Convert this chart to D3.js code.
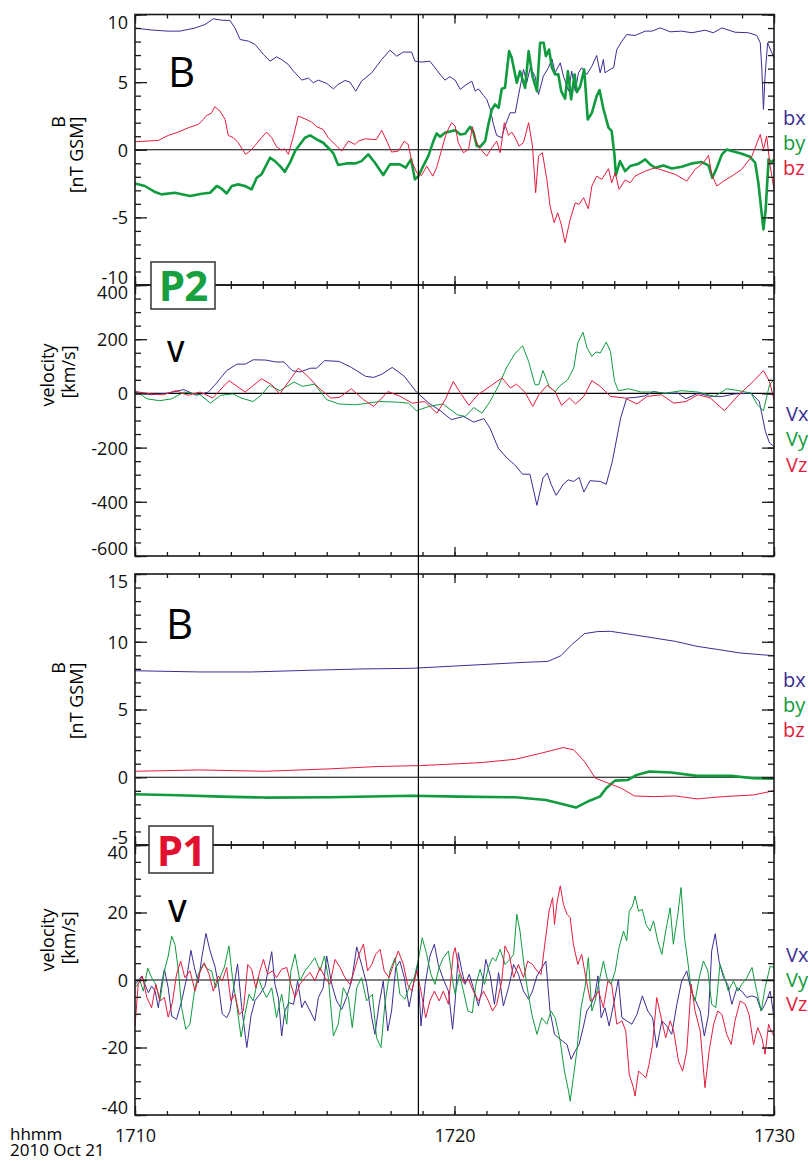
<!DOCTYPE html>
<html>
<head>
<meta charset="utf-8">
<script src="https://cdn.jsdelivr.net/npm/d3@7"></script>
<style>
  body { margin: 0; background: #fff; }
  svg text { font-family: "Open Sans", "DejaVu Sans", sans-serif; }
</style>
</head>
<body>
<div id="chart"></div>
<script>
// time axis: minutes after 17:10 UT, 2010 Oct 21
var eventTime = 8.87;
var timeTicks = [0, 10, 20];
var timeTickLabels = ["1710", "1720", "1730"];

// tick values of each panel
var p2BTicks = [-10, -5, 0, 5, 10];
var p2VTicks = [-600, -400, -200, 0, 200, 400];
var p1BTicks = [-5, 0, 5, 10, 15];
var p1VTicks = [-40, -20, 0, 20, 40];

// P2 magnetic field [nT GSM], [minute, value]
var p2Bx = [[0,9.0],[0.52,8.85],[1.04,8.77],[1.41,8.77],[1.88,9.0],[2.19,9.26],[2.45,9.68],[2.71,9.58],[2.97,9.56],[3.13,9.0],[3.29,8.15],[3.55,8.03],[3.76,7.78],[4.02,7.04],[4.23,6.55],[4.43,6.87],[4.59,6.67],[4.80,6.3],[4.96,5.81],[5.22,5.15],[5.43,5.3],[5.58,4.95],[5.74,5.15],[6.0,4.9],[6.21,4.5],[6.36,4.83],[6.57,5.12],[6.73,5.0],[6.91,4.33],[7.09,5.07],[7.41,5.69],[7.72,6.67],[7.98,7.36],[8.19,6.92],[8.40,7.22],[8.66,7.22],[8.76,6.55],[8.97,6.48],[9.23,6.55],[9.39,6.06],[9.55,5.57],[9.70,5.15],[9.86,5.4],[10.02,5.15],[10.18,4.46],[10.33,4.75],[10.54,5.07],[10.65,4.33],[10.75,4.5],[10.91,4.01],[11.01,3.72],[11.12,2.98],[11.22,1.87],[11.32,1.06],[11.48,0.89],[11.58,1.75],[11.74,2.73],[11.90,2.73],[12.0,3.97],[12.16,5.94],[12.26,4.95],[12.37,6.06],[12.52,5.44],[12.63,4.09],[12.78,5.44],[12.94,6.06],[13.05,6.72],[13.15,5.69],[13.31,6.43],[13.41,5.44],[13.57,4.33],[13.67,5.81],[13.78,4.33],[13.88,5.69],[13.98,6.06],[14.14,5.57],[14.30,6.18],[14.45,6.97],[14.56,5.69],[14.66,6.67],[14.71,5.69],[14.87,5.94],[14.98,6.06],[15.08,7.41],[15.24,8.03],[15.39,8.52],[15.65,8.45],[15.97,8.77],[16.18,8.77],[16.44,9.01],[16.75,8.72],[17.11,8.77],[17.43,8.65],[17.84,8.84],[18.10,8.65],[18.37,9.01],[18.78,8.69],[19.20,8.65],[19.46,8.45],[19.57,7.91],[19.62,5.94],[19.67,2.98],[19.72,5.44],[19.80,7.91],[19.91,7.29],[20.0,6.8]];
var p2By = [[0,-2.49],[0.31,-2.68],[0.63,-3.13],[0.83,-3.3],[1.25,-3.18],[1.72,-3.42],[2.09,-3.25],[2.35,-3.18],[2.56,-2.68],[2.71,-2.88],[2.87,-3.23],[3.03,-2.68],[3.23,-2.56],[3.44,-2.68],[3.65,-2.93],[3.81,-2.07],[3.96,-1.82],[4.12,-1.08],[4.23,-0.59],[4.38,-0.84],[4.54,-1.21],[4.69,-1.63],[4.85,-0.96],[5.01,-0.1],[5.16,0.39],[5.32,0.89],[5.48,1.06],[5.69,0.76],[5.89,0.52],[6.10,0.02],[6.21,-0.27],[6.36,-1.13],[6.62,-1.01],[6.89,-1.01],[7.09,-0.84],[7.30,-0.34],[7.51,-0.96],[7.77,-1.87],[7.98,-1.08],[8.29,-1.08],[8.47,-1.33],[8.64,-0.71],[8.76,-2.19],[8.87,-1.95],[9.02,-1.21],[9.18,-0.47],[9.34,0.64],[9.44,1.21],[9.55,0.96],[9.70,1.26],[10.02,1.45],[10.18,1.13],[10.33,1.18],[10.49,1.7],[10.59,1.31],[10.70,0.27],[10.80,0.22],[10.96,0.64],[11.06,1.87],[11.17,2.98],[11.27,3.35],[11.38,3.1],[11.48,4.51],[11.58,4.58],[11.71,7.29],[11.79,6.8],[11.95,4.95],[12.05,5.81],[12.21,4.58],[12.32,7.29],[12.44,5.44],[12.58,4.33],[12.68,7.91],[12.79,7.91],[12.86,6.92],[12.96,7.41],[13.05,6.06],[13.15,5.57],[13.25,5.57],[13.34,4.33],[13.46,3.77],[13.55,5.81],[13.65,3.72],[13.76,5.57],[13.83,4.26],[13.93,4.66],[14.06,5.94],[14.17,2.24],[14.30,2.73],[14.45,3.97],[14.54,4.41],[14.66,3.03],[14.82,1.63],[14.92,1.38],[15.01,-0.47],[15.05,-1.87],[15.18,-0.84],[15.34,-1.58],[15.50,-1.21],[15.71,-1.08],[15.81,-0.96],[15.97,-0.71],[16.12,-1.08],[16.28,-1.33],[16.54,-1.16],[16.80,-1.38],[17.11,-1.26],[17.43,-1.01],[17.74,-0.91],[17.95,-1.16],[18.07,-2.07],[18.21,-1.33],[18.37,-0.34],[18.52,0.02],[18.68,-0.1],[18.99,-0.3],[19.25,-0.52],[19.41,-0.96],[19.51,-2.44],[19.60,-4.41],[19.67,-5.89],[19.74,-4.41],[19.83,-0.71],[19.93,-0.96],[20.0,-0.71]];
var p2Bz = [[0,0.59],[0.73,0.69],[1.04,1.06],[1.36,1.31],[1.67,1.63],[1.98,1.87],[2.14,2.24],[2.24,2.54],[2.38,2.68],[2.50,3.18],[2.66,2.86],[2.82,2.24],[2.92,1.06],[3.08,0.89],[3.23,0.52],[3.46,-0.34],[3.60,-0.1],[3.76,0.32],[3.96,0.89],[4.12,1.31],[4.28,0.89],[4.43,0.22],[4.59,-0.02],[4.69,0.07],[4.80,-0.34],[4.96,1.01],[5.11,2.49],[5.32,2.29],[5.53,2.04],[5.69,1.7],[5.89,1.5],[6.05,0.89],[6.26,0.39],[6.47,-0.1],[6.68,0.64],[6.89,0.39],[6.99,0.64],[7.20,0.81],[7.41,0.76],[7.56,0.76],[7.72,1.45],[7.88,0.64],[8.03,-0.17],[8.24,-0.1],[8.43,0.64],[8.55,0.39],[8.66,-0.84],[8.82,-1.7],[8.97,-1.9],[9.13,-1.21],[9.32,-1.95],[9.44,-1.33],[9.60,0.02],[9.75,1.26],[9.91,2.0],[10.02,1.75],[10.12,0.52],[10.28,-0.22],[10.44,0.02],[10.56,1.7],[10.67,0.64],[10.80,0.07],[11.01,-0.47],[11.17,0.15],[11.32,0.64],[11.43,-0.22],[11.56,2.0],[11.69,1.06],[11.79,1.31],[11.90,0.89],[12.02,0.27],[12.16,0.52],[12.32,2.0],[12.44,0.27],[12.54,-3.18],[12.63,-0.47],[12.75,-0.22],[12.89,-2.19],[12.99,-4.16],[13.12,-5.39],[13.23,-4.66],[13.34,-5.52],[13.46,-6.87],[13.62,-5.15],[13.78,-3.92],[13.90,-4.04],[14.04,-3.55],[14.19,-4.36],[14.30,-2.68],[14.45,-1.95],[14.61,-2.19],[14.82,-1.4],[14.92,-2.44],[15.03,-1.7],[15.15,-2.93],[15.34,-2.24],[15.50,-2.44],[15.65,-1.95],[15.97,-1.58],[16.28,-1.33],[16.59,-1.58],[16.91,-1.82],[17.27,-2.32],[17.53,-1.45],[17.79,-0.96],[17.95,-0.42],[18.05,-1.82],[18.21,-2.68],[18.42,-2.32],[18.68,-1.95],[18.99,-1.45],[19.31,-0.47],[19.57,1.13],[19.67,0.02],[19.77,1.01],[19.88,-1.21],[20.0,-2.93]];

// P2 velocity [km/s]
var p2Vx = [[0,4],[0.51,-5],[1.02,1],[1.53,14],[1.92,-7],[2.30,5],[2.55,38],[2.87,84],[3.19,108],[3.45,108],[3.70,124],[4.09,123],[4.41,116],[4.66,116],[4.92,84],[5.17,79],[5.49,93],[5.68,93],[5.94,121],[6.39,118],[6.77,96],[7.22,63],[7.47,59],[7.73,71],[8.05,96],[8.43,63],[8.81,5],[9.20,-36],[9.58,-66],[9.90,-97],[10.28,-85],[10.60,-106],[10.92,-93],[11.11,-128],[11.37,-202],[11.62,-236],[11.88,-263],[12.13,-298],[12.36,-298],[12.58,-413],[12.77,-312],[12.90,-294],[13.03,-337],[13.18,-376],[13.41,-335],[13.56,-319],[13.73,-325],[13.90,-310],[14.05,-364],[14.24,-322],[14.56,-325],[14.75,-335],[14.94,-251],[15.20,-91],[15.39,-17],[15.65,-15],[15.96,-9],[16.22,7],[16.60,0],[16.99,1],[17.24,-20],[17.62,1],[18.01,-11],[18.39,-11],[18.77,-2],[19.28,1],[19.54,-30],[19.73,-140],[19.86,-183],[20.0,-196]];
var p2Vy = [[0,10],[0.38,-20],[0.77,-27],[1.15,-20],[1.53,5],[2.04,-5],[2.36,-36],[2.68,-7],[3.07,-2],[3.32,-17],[3.70,-30],[3.96,-5],[4.21,30],[4.53,10],[4.98,42],[5.24,26],[5.62,34],[6.00,-23],[6.39,-39],[6.90,-42],[7.28,-36],[7.66,-30],[8.17,-32],[8.56,-36],[8.81,-64],[9.20,-48],[9.64,-39],[10.09,-79],[10.34,-85],[10.60,-52],[10.86,-73],[11.11,-30],[11.37,26],[11.62,93],[11.88,145],[12.13,176],[12.32,118],[12.52,32],[12.64,32],[12.77,84],[12.96,26],[13.15,5],[13.28,26],[13.54,50],[13.73,93],[13.86,186],[14.02,226],[14.15,167],[14.30,137],[14.43,153],[14.56,149],[14.75,189],[14.88,155],[15.01,44],[15.13,10],[15.45,17],[15.84,5],[16.22,5],[16.60,1],[17.11,10],[17.62,5],[18.14,-11],[18.52,17],[18.90,10],[19.28,1],[19.48,-42],[19.67,-64],[19.86,32],[20.0,50]];
var p2Vz = [[0,7],[0.51,-2],[0.89,-5],[1.28,10],[1.66,-7],[2.04,5],[2.43,-17],[2.94,47],[3.45,5],[3.96,54],[4.28,32],[4.53,-2],[4.85,50],[5.11,93],[5.36,69],[5.75,20],[6.13,-17],[6.39,-15],[6.77,17],[7.15,-23],[7.47,-48],[7.92,7],[8.30,-11],[8.68,-36],[9.07,-30],[9.45,-73],[9.71,-23],[9.96,44],[10.22,-5],[10.45,-44],[10.73,-5],[11.11,26],[11.49,57],[11.75,20],[11.94,34],[12.20,5],[12.45,-48],[12.64,-5],[12.90,30],[13.15,7],[13.35,-44],[13.60,-17],[13.79,-39],[14.05,-11],[14.30,47],[14.56,26],[14.88,-11],[15.33,-17],[15.71,-39],[16.03,-11],[16.48,-5],[16.86,-36],[17.24,-30],[17.62,-5],[18.01,-17],[18.45,-64],[18.90,-5],[19.35,44],[19.67,84],[19.86,44],[20.0,-23]];

// P1 magnetic field [nT GSM]
var p1Bx = [[0,7.86],[2.03,7.77],[3.65,7.77],[5.41,7.89],[7.04,7.99],[8.66,8.04],[9.47,8.14],[10.83,8.31],[12.18,8.48],[12.92,8.55],[13.33,8.97],[13.67,9.79],[14.07,10.6],[14.48,10.75],[14.88,10.77],[15.56,10.53],[16.24,10.28],[16.91,10.03],[17.59,9.66],[18.27,9.42],[18.94,9.17],[20.0,8.97]];
var p1By = [[0,-1.26],[1.35,-1.33],[2.71,-1.43],[4.06,-1.5],[6.09,-1.48],[8.66,-1.36],[10.15,-1.43],[11.91,-1.48],[12.86,-1.68],[13.40,-2.0],[13.80,-2.24],[14.21,-1.75],[14.55,-1.43],[14.75,-0.81],[15.02,-0.25],[15.43,-0.2],[15.70,0.17],[16.10,0.42],[16.78,0.35],[17.59,0.1],[18.67,0.1],[19.35,-0.07],[20.0,-0.1]];
var p1Bz = [[0,0.44],[2.03,0.54],[4.06,0.44],[6.09,0.62],[7.58,0.79],[8.93,0.86],[10.83,1.08],[11.91,1.33],[12.72,1.78],[13.40,2.19],[13.73,2.02],[14.07,1.16],[14.41,-0.07],[14.82,-0.44],[15.22,-0.81],[15.63,-1.38],[16.24,-1.43],[16.91,-1.38],[17.59,-1.6],[18.40,-1.43],[19.35,-1.31],[20.0,-0.99]];

// P1 velocity [km/s]
var p1Vx = [[0,-1.3],[0.10,-0.3],[0.21,1.2],[0.31,-1.3],[0.42,-3.8],[0.52,-1.8],[0.63,-3.3],[0.73,-8.2],[0.83,-1.3],[0.92,3.2],[1.04,-2.3],[1.15,-10.7],[1.30,-11.7],[1.46,-6.2],[1.62,0.7],[1.75,8.8],[1.86,3.7],[1.98,-0.8],[2.09,6.6],[2.22,13.8],[2.35,8.6],[2.50,4.1],[2.61,-1.3],[2.73,-10.0],[2.87,-11.2],[2.97,-9.2],[3.08,-2.8],[3.21,4.8],[3.34,-8.2],[3.50,-20.0],[3.63,-10.7],[3.76,-6.0],[3.91,-4.2],[4.07,-1.8],[4.28,8.4],[4.38,-1.3],[4.49,-5.4],[4.59,-16.6],[4.69,-9.2],[4.82,-6.7],[4.96,-7.2],[5.09,-0.3],[5.22,-8.2],[5.32,-6.2],[5.48,-9.2],[5.63,-12.1],[5.74,-5.2],[5.89,-2.3],[6.00,7.1],[6.16,-1.3],[6.31,-6.2],[6.47,-8.7],[6.62,-5.2],[6.78,-0.3],[6.94,9.8],[7.09,4.6],[7.25,-1.1],[7.41,-11.2],[7.51,-16.1],[7.64,-7.2],[7.77,-0.3],[7.91,-15.1],[8.03,-9.2],[8.16,3.7],[8.29,5.6],[8.43,0.7],[8.58,-8.0],[8.71,-1.3],[8.85,4.6],[8.95,-13.6],[9.08,-1.3],[9.23,7.1],[9.37,10.6],[9.49,4.6],[9.65,0.2],[9.81,-3.3],[9.94,-14.6],[10.02,-6.2],[10.12,8.1],[10.23,2.7],[10.33,-1.3],[10.46,1.7],[10.59,-2.3],[10.75,-7.7],[10.85,-3.3],[10.98,6.1],[11.12,1.2],[11.25,-7.2],[11.38,2.2],[11.53,-7.7],[11.69,-2.3],[11.85,4.6],[12.00,1.7],[12.16,-3.3],[12.32,-5.7],[12.44,-3.3],[12.58,1.2],[12.71,3.2],[12.86,5.6],[12.99,-9.2],[13.13,-16.1],[13.25,-17.1],[13.38,-18.1],[13.52,-19.1],[13.65,-23.5],[13.78,-21.0],[13.90,-19.1],[14.04,-13.6],[14.14,-9.2],[14.28,-7.2],[14.40,-4.2],[14.49,1.2],[14.59,-11.2],[14.71,-8.2],[14.84,-13.6],[14.98,-7.2],[15.13,0.2],[15.24,-11.2],[15.39,-12.1],[15.55,-13.1],[15.71,-10.2],[15.88,-4.7],[16.05,-9.2],[16.20,-11.2],[16.33,-20.0],[16.49,-12.1],[16.64,-13.6],[16.80,-16.1],[16.96,-7.2],[17.11,-0.3],[17.27,2.7],[17.41,-3.3],[17.55,-6.2],[17.69,-9.2],[17.82,-16.6],[17.95,-10.2],[18.05,8.6],[18.16,13.7],[18.28,5.6],[18.42,0.7],[18.55,-1.3],[18.68,-7.2],[18.84,-2.3],[18.99,-3.3],[19.15,-5.2],[19.31,-4.7],[19.46,-5.2],[19.60,-9.2],[19.72,-7.2],[19.88,-3.3],[20.0,-11.2]];
var p1Vy = [[0,-2.3],[0.16,-0.3],[0.26,-3.3],[0.40,3.5],[0.52,0.7],[0.65,-1.3],[0.78,-6.2],[0.92,2.7],[1.04,7.1],[1.15,13.0],[1.25,10.6],[1.36,2.7],[1.46,-8.2],[1.59,-14.6],[1.72,-13.1],[1.86,-3.3],[1.98,1.7],[2.14,4.8],[2.27,3.2],[2.40,2.7],[2.52,-2.3],[2.66,0.7],[2.80,3.9],[2.94,10.1],[3.05,0.7],[3.18,-7.2],[3.32,-16.9],[3.44,-10.2],[3.57,-4.2],[3.70,-6.2],[3.86,0.7],[3.99,-2.8],[4.12,-5.2],[4.28,-2.3],[4.43,-11.2],[4.59,-4.2],[4.75,-13.1],[4.88,2.7],[5.01,7.6],[5.16,-0.3],[5.32,2.7],[5.48,4.6],[5.63,6.6],[5.79,2.7],[5.93,7.1],[6.05,0.7],[6.21,-16.6],[6.36,-13.1],[6.52,-2.3],[6.68,-5.2],[6.80,-14.1],[6.94,-2.3],[7.09,0.7],[7.25,-6.2],[7.43,-4.2],[7.56,-17.1],[7.70,-20.0],[7.82,-7.2],[7.98,2.7],[8.14,6.6],[8.29,-4.2],[8.45,-5.7],[8.61,-1.3],[8.74,0.7],[8.87,6.1],[8.99,12.5],[9.13,7.6],[9.26,1.7],[9.39,-1.3],[9.52,3.7],[9.65,6.6],[9.81,8.6],[9.96,-1.3],[10.02,-4.2],[10.15,1.7],[10.28,-3.3],[10.42,-9.2],[10.56,-9.7],[10.67,-1.3],[10.80,3.2],[10.94,-1.3],[11.06,3.7],[11.19,6.6],[11.29,5.6],[11.43,9.1],[11.58,4.6],[11.74,6.1],[11.85,7.6],[11.95,19.5],[12.05,14.5],[12.16,5.6],[12.26,-1.3],[12.42,-10.2],[12.58,-16.1],[12.73,-11.2],[12.89,-13.1],[13.02,-9.2],[13.15,-11.2],[13.31,-18.1],[13.44,-27.0],[13.57,-32.9],[13.62,-35.9],[13.72,-28.9],[13.83,-21.0],[13.96,-8.2],[14.09,-1.8],[14.19,6.6],[14.30,-9.2],[14.40,-6.2],[14.53,-0.3],[14.66,5.6],[14.77,0.7],[14.90,-1.3],[15.03,2.7],[15.15,9.6],[15.29,14.5],[15.39,11.6],[15.47,20.4],[15.57,21.9],[15.65,24.9],[15.76,20.4],[15.88,20.9],[15.99,16.5],[16.12,14.5],[16.23,17.5],[16.36,11.6],[16.49,7.6],[16.61,14.5],[16.75,21.4],[16.85,10.6],[16.99,19.5],[17.09,27.4],[17.20,12.5],[17.30,5.6],[17.41,-3.3],[17.53,-6.2],[17.66,0.7],[17.79,5.6],[17.93,2.7],[18.05,-7.2],[18.18,-8.2],[18.31,4.6],[18.45,0.7],[18.57,-3.3],[18.73,-0.3],[18.87,-3.3],[18.99,-1.3],[19.15,0.7],[19.31,3.7],[19.46,-3.3],[19.60,-9.2],[19.72,-2.3],[19.88,4.1],[20.0,3.7]];
var p1Vz = [[0,-13.6],[0.10,-1.3],[0.23,1.2],[0.37,-5.2],[0.52,-8.2],[0.65,-1.3],[0.78,-6.2],[0.92,-5.2],[1.04,-11.0],[1.17,-6.7],[1.30,1.7],[1.43,5.6],[1.56,0.7],[1.72,2.7],[1.88,-3.3],[2.03,2.2],[2.17,5.1],[2.32,1.7],[2.45,-3.3],[2.61,1.2],[2.73,-0.3],[2.87,3.7],[3.00,-6.2],[3.13,-4.2],[3.26,-10.2],[3.39,-9.2],[3.53,4.6],[3.65,3.2],[3.78,-2.3],[3.91,2.7],[4.02,6.1],[4.15,1.7],[4.30,2.7],[4.43,0.7],[4.59,3.2],[4.75,3.7],[4.88,-1.3],[5.01,-5.2],[5.16,-1.3],[5.32,0.7],[5.48,2.2],[5.63,-0.3],[5.79,3.7],[5.95,0.7],[6.10,-1.3],[6.26,6.1],[6.42,3.7],[6.57,0.7],[6.73,-1.3],[6.86,2.7],[7.01,7.6],[7.15,10.6],[7.28,2.7],[7.41,4.6],[7.53,7.6],[7.67,9.1],[7.80,2.7],[7.95,0.7],[8.09,4.6],[8.24,8.6],[8.40,4.6],[8.53,-1.3],[8.66,-3.3],[8.82,2.7],[8.95,-3.3],[9.10,-11.2],[9.23,-6.2],[9.37,-3.3],[9.52,-6.2],[9.65,-3.3],[9.81,-7.2],[9.96,7.6],[10.02,9.6],[10.15,2.7],[10.28,-0.8],[10.44,0.2],[10.59,-3.3],[10.75,-6.2],[10.91,-3.3],[11.06,-6.2],[11.19,-9.2],[11.32,-7.2],[11.48,-0.3],[11.58,10.1],[11.71,7.6],[11.85,0.7],[12.00,4.6],[12.16,0.7],[12.29,5.6],[12.44,4.6],[12.58,2.7],[12.71,1.7],[12.84,11.6],[12.96,20.4],[13.07,24.4],[13.13,16.5],[13.20,22.4],[13.31,27.9],[13.41,22.4],[13.52,19.5],[13.62,18.5],[13.72,10.6],[13.86,4.6],[13.98,7.6],[14.11,0.7],[14.25,-6.2],[14.38,-5.2],[14.51,-3.3],[14.66,-8.2],[14.80,-0.3],[14.92,-1.3],[15.08,-13.1],[15.24,-12.1],[15.36,-15.1],[15.47,-28.0],[15.60,-31.9],[15.65,-34.4],[15.76,-27.0],[15.88,-28.0],[15.99,-29.0],[16.09,-25.0],[16.20,-19.1],[16.33,-5.2],[16.47,-11.2],[16.61,-17.1],[16.75,-12.1],[16.86,-15.1],[17.01,-24.0],[17.14,-27.0],[17.27,-21.0],[17.41,-1.3],[17.53,-9.2],[17.69,-15.1],[17.84,-31.9],[17.97,-21.0],[18.11,-13.1],[18.24,-9.2],[18.37,-10.2],[18.52,-16.1],[18.66,-19.1],[18.78,-12.1],[18.94,-6.2],[19.10,-7.2],[19.22,-10.2],[19.36,-19.1],[19.49,-14.1],[19.62,-17.1],[19.72,-22.0],[19.83,-13.1],[19.91,-15.1],[20.0,-16.6]];

var colX = "#3b2d94", colY = "#0f9b3e", colZ = "#e41c3c";

var width = 812, height = 1161;
var left = 135, right = 774;

var svg = d3.select("#chart").append("svg")
    .attr("width", width)
    .attr("height", height);

var x = d3.scaleLinear().domain([0, 20]).range([left, right]);

// panel layout, top to bottom
var panels = [
    { top: 14.5, bottom: 285, ticks: p2BTicks, minor: 1,
      series: [[p2Bx, colX, 1], [p2By, colY, 2.6], [p2Bz, colZ, 1]],
      names: ["bx", "by", "bz"], nameY: [125, 150, 175], nameX: 783,
      big: "B", bigX: 168, bigY: 87, bigSize: 42, bigWeight: 400,
      title1: "B", title1Y: 122, title1X: 65,
      title2: "[nT GSM]", title2Y: 155, title2X: 83 },
    { top: 285, bottom: 556, ticks: p2VTicks, minor: 50,
      series: [[p2Vx, colX, 1], [p2Vy, colY, 1], [p2Vz, colZ, 1]],
      names: ["Vx", "Vy", "Vz"], nameY: [421, 446, 472], nameX: 786,
      big: "V", bigX: 167, bigY: 362, bigSize: 28, bigWeight: 600,
      title1: "velocity", title1Y: 375, title1X: 54,
      title2: "[km/s]", title2Y: 372, title2X: 75 },
    { top: 574, bottom: 845, ticks: p1BTicks, minor: 1,
      series: [[p1Bx, colX, 1], [p1By, colY, 2.6], [p1Bz, colZ, 1]],
      names: ["bx", "by", "bz"], nameY: [687, 712, 737], nameX: 783,
      big: "B", bigX: 166, bigY: 639, bigSize: 42, bigWeight: 400,
      title1: "B", title1Y: 668, title1X: 65,
      title2: "[nT GSM]", title2Y: 701, title2X: 83 },
    { top: 845, bottom: 1115, ticks: p1VTicks, minor: 5,
      series: [[p1Vx, colX, 1], [p1Vy, colY, 1], [p1Vz, colZ, 1]],
      names: ["Vx", "Vy", "Vz"], nameY: [962, 987, 1011], nameX: 786,
      big: "V", bigX: 168, bigY: 922, bigSize: 30, bigWeight: 600,
      title1: "velocity", title1Y: 940, title1X: 54,
      title2: "[km/s]", title2Y: 938, title2X: 75 }
];

var axisColor = "#1a1a1a";

function styleAxis(g) {
    g.select(".domain").remove();
    g.selectAll(".tick line").attr("stroke", axisColor).attr("stroke-width", 1.3);
    g.selectAll(".tick text").attr("fill", "#111").style("font-size", "18px");
}

panels.forEach(function (p, i) {
    var lo = p.ticks[0], hi = p.ticks[p.ticks.length - 1];
    var y = d3.scaleLinear().domain([lo, hi]).range([p.bottom, p.top]);
    var g = svg.append("g");
    var minors = d3.range(lo, hi + 1e-9, p.minor);

    // zero line
    g.append("line")
        .attr("x1", left).attr("x2", right)
        .attr("y1", y(0)).attr("y2", y(0))
        .attr("stroke", "#000").attr("stroke-width", 1.2);

    // data
    var line = d3.line()
        .x(function (d) { return x(d[0]); })
        .y(function (d) { return y(d[1]); });
    p.series.forEach(function (s) {
        g.append("path")
            .datum(s[0])
            .attr("d", line)
            .attr("fill", "none")
            .attr("stroke", s[1])
            .attr("stroke-width", s[2])
            .attr("stroke-linejoin", "round");
    });

    // left axis with labels (plain hyphen for negatives, as in the original)
    g.append("g")
        .attr("transform", "translate(" + left + ",0)")
        .call(d3.axisLeft(y).tickValues(p.ticks).tickSize(-12).tickPadding(7)
            .tickFormat(function (d) { return String(d); }))
        .call(styleAxis)
        .selectAll(".tick text")
        .attr("dy", function (d) { return d === hi ? "0.76em" : (d === lo ? "-0.06em" : "0.36em"); });
    g.append("g")
        .attr("transform", "translate(" + left + ",0)")
        .call(d3.axisLeft(y).tickValues(minors).tickSize(-6).tickFormat(""))
        .call(styleAxis);

    // right axis
    g.append("g")
        .attr("transform", "translate(" + right + ",0)")
        .call(d3.axisRight(y).tickValues(p.ticks).tickSize(-12).tickFormat(""))
        .call(styleAxis);
    g.append("g")
        .attr("transform", "translate(" + right + ",0)")
        .call(d3.axisRight(y).tickValues(minors).tickSize(-6).tickFormat(""))
        .call(styleAxis);

    // top and bottom time ticks
    var last = i === panels.length - 1;
    g.append("g")
        .attr("transform", "translate(0," + p.bottom + ")")
        .call(d3.axisBottom(x).tickValues(timeTicks).tickSize(-9).tickPadding(14)
            .tickFormat(function (d, k) { return last ? timeTickLabels[k] : ""; }))
        .call(styleAxis);
    g.append("g")
        .attr("transform", "translate(0," + p.bottom + ")")
        .call(d3.axisBottom(x).tickValues(d3.range(0, 21)).tickSize(-4).tickFormat(""))
        .call(styleAxis);
    g.append("g")
        .attr("transform", "translate(0," + p.top + ")")
        .call(d3.axisTop(x).tickValues(timeTicks).tickSize(-9).tickFormat(""))
        .call(styleAxis);
    g.append("g")
        .attr("transform", "translate(0," + p.top + ")")
        .call(d3.axisTop(x).tickValues(d3.range(0, 21)).tickSize(-4).tickFormat(""))
        .call(styleAxis);

    // frame
    g.append("rect")
        .attr("x", left).attr("y", p.top)
        .attr("width", right - left).attr("height", p.bottom - p.top)
        .attr("fill", "none")
        .attr("stroke", axisColor)
        .attr("stroke-width", 1.6);

    // series names on the right
    p.names.forEach(function (n, k) {
        g.append("text")
            .attr("x", p.nameX).attr("y", p.nameY[k])
            .attr("fill", p.series[k][1])
            .style("font-size", "20px")
            .text(n);
    });

    // big panel letter
    g.append("text")
        .attr("x", p.bigX).attr("y", p.bigY)
        .style("font-size", p.bigSize + "px")
        .style("font-weight", p.bigWeight)
        .attr("fill", "#000")
        .text(p.big);

    // y title, two lines
    g.append("text")
        .attr("transform", "translate(" + p.title1X + "," + p.title1Y + ") rotate(-90)")
        .attr("text-anchor", "middle")
        .style("font-size", "18px")
        .text(p.title1);
    g.append("text")
        .attr("transform", "translate(" + p.title2X + "," + p.title2Y + ") rotate(-90)")
        .attr("text-anchor", "middle")
        .style("font-size", "18px")
        .text(p.title2);
});

// event marker
svg.append("line")
    .attr("x1", x(eventTime)).attr("x2", x(eventTime))
    .attr("y1", 14.5).attr("y2", 1115)
    .attr("stroke", "#000").attr("stroke-width", 1.2);

// probe boxes
var probes = [
    { name: "P2", color: "#16a03f", x: 151, y: 262, w: 64, h: 47, base: 301 },
    { name: "P1", color: "#e2112f", x: 149, y: 826, w: 64, h: 47, base: 866 }
];
probes.forEach(function (b) {
    svg.append("rect")
        .attr("x", b.x).attr("y", b.y)
        .attr("width", b.w).attr("height", b.h)
        .attr("fill", "#fff")
        .attr("stroke", "#333")
        .attr("stroke-width", 1.5);
    svg.append("text")
        .attr("x", b.x + b.w / 2).attr("y", b.base)
        .attr("text-anchor", "middle")
        .attr("fill", b.color)
        .style("font-size", "42px")
        .style("font-weight", 700)
        .style("letter-spacing", "-1px")
        .text(b.name);
});

// time axis caption
svg.append("text").attr("x", 10).attr("y", 1140).style("font-size", "17px").text("hhmm");
svg.append("text").attr("x", 10).attr("y", 1156).style("font-size", "17px").text("2010 Oct 21");
</script>
</body>
</html>
